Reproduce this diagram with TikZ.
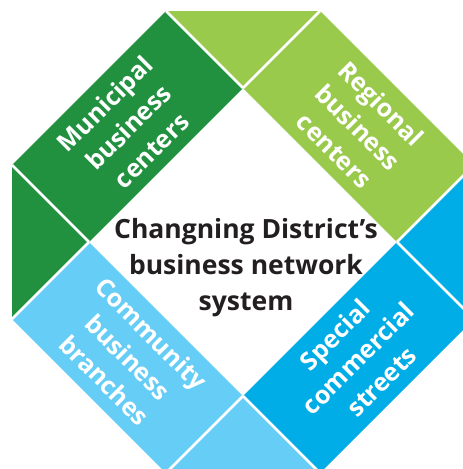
\documentclass[tikz,border=0pt]{standalone}
\usepackage{fontspec}
\setmainfont{Open Sans}
\definecolor{dgreen}{RGB}{33,145,63}
\definecolor{lgreen}{RGB}{154,202,76}
\definecolor{dblue}{RGB}{0,173,231}
\definecolor{lblue}{RGB}{102,205,246}
\definecolor{titlecol}{RGB}{35,31,32}
\begin{document}
\begin{tikzpicture}[x=1pt,y=-1pt,
  gap/.style={draw=white,line width=2.6pt},
  bandtext/.style={text=white,font=\bfseries\fontsize{25}{33}\selectfont,align=center,inner sep=0pt},
  titletext/.style={text=titlecol,font=\bfseries\fontsize{26.5}{36}\selectfont,align=center,inner sep=0pt}]
\useasboundingbox (0,0) rectangle (463,469);
% inner diamond vertices
\coordinate (T) at (243,88);
\coordinate (R) at (397,242);
\coordinate (B) at (243,396);
\coordinate (L) at (89,242);
% outer corners
\coordinate (La) at (12,165);
\coordinate (Ta) at (166,11);
\coordinate (Tb) at (320,11);
\coordinate (Ra) at (474,165);
\coordinate (Rb) at (474,319);
\coordinate (Ba) at (320,473);
\coordinate (Bb) at (166,473);
\coordinate (Lb) at (12,319);
% pieces
\fill[dgreen] (L) -- (T) -- (Ta) -- (La) -- cycle;
\fill[dgreen] (L) -- (La) -- (Lb) -- cycle;
\fill[lgreen] (T) -- (R) -- (Ra) -- (Tb) -- cycle;
\fill[lgreen] (T) -- (Ta) -- (Tb) -- cycle;
\fill[dblue] (R) -- (B) -- (Ba) -- (Rb) -- cycle;
\fill[dblue] (R) -- (Ra) -- (Rb) -- cycle;
\fill[lblue] (B) -- (L) -- (Lb) -- (Bb) -- cycle;
\fill[lblue] (B) -- (Ba) -- (Bb) -- cycle;
% separators
\draw[gap] (L) -- (La);
\draw[gap] (L) -- (Lb);
\draw[gap] (T) -- (Ta);
\draw[gap] (T) -- (Tb);
\draw[gap] (R) -- (Ra);
\draw[gap] (R) -- (Rb);
\draw[gap] (B) -- (Ba);
\draw[gap] (B) -- (Bb);
% texts
\node[bandtext,rotate=45] (mun) at (128,127) {Municipal\\business\\centers};
\node[bandtext,rotate=-45] (reg) at (358,127) {Regional\\business\\centers};
\node[bandtext,rotate=-45] (com) at (128,357) {Community\\business\\branches};
\node[bandtext,rotate=45] (spe) at (358,358) {Special\\commercial\\streets};
\node[titletext] (title) at (246,268) {Changning District’s\\business network\\system};
\end{tikzpicture}
\end{document}
